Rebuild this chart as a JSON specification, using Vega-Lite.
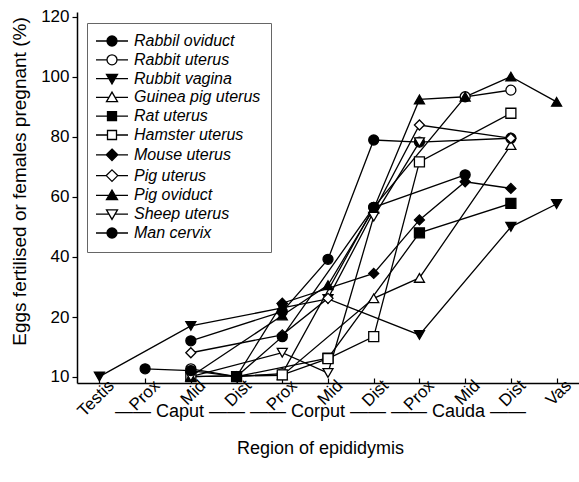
{
  "$schema": "https://vega.github.io/schema/vega-lite/v6.json",
  "width": 502,
  "height": 373,
  "autosize": {"type": "none"},
  "padding": {"left": 77, "top": 10, "right": 0, "bottom": 99},
  "background": "white",
  "config": {
    "view": {"stroke": null},
    "font": "Liberation Sans",
    "axis": {
      "grid": false,
      "domainColor": "black",
      "domainWidth": 1.5,
      "tickColor": "black",
      "tickWidth": 1.2,
      "labelColor": "black",
      "titleColor": "black",
      "labelFont": "Liberation Sans",
      "titleFont": "Liberation Sans",
      "titleFontWeight": "normal"
    },
    "legend": {
      "title": null,
      "orient": "none",
      "legendX": 10,
      "legendY": 13,
      "padding": 10,
      "strokeColor": "#666666",
      "fillColor": "white",
      "symbolSize": 100,
      "symbolStrokeWidth": 1.3,
      "symbolOpacity": 1,
      "symbolOffset": 7,
      "labelOffset": 14,
      "labelFontSize": 16,
      "labelFontStyle": "italic",
      "labelFont": "Liberation Sans",
      "labelColor": "black",
      "labelLimit": 300,
      "rowPadding": 2.8
    }
  },
  "data": {
    "values": [
      {"series": "Rabbil oviduct", "region": "Caput Mid", "step": 3, "pct": 16},
      {"series": "Rabbil oviduct", "region": "Corput Prox", "step": 5, "pct": 21.8},
      {"series": "Rabbil oviduct", "region": "Corput Mid", "step": 6, "pct": 39.2},
      {"series": "Rabbil oviduct", "region": "Corput Dist", "step": 7, "pct": 78.9},
      {"series": "Rabbil oviduct", "region": "Cauda Prox", "step": 8, "pct": 78.2},
      {"series": "Rabbil oviduct", "region": "Cauda Dist", "step": 10, "pct": 79.5},

      {"series": "Rabbit uterus", "region": "Caput Mid", "step": 3, "pct": 11.3},
      {"series": "Rabbit uterus", "region": "Caput Dist", "step": 4, "pct": 10},
      {"series": "Rabbit uterus", "region": "Corput Prox", "step": 5, "pct": 10.5},
      {"series": "Rabbit uterus", "region": "Corput Dist", "step": 7, "pct": 56.5},
      {"series": "Rabbit uterus", "region": "Cauda Mid", "step": 9, "pct": 93.3},
      {"series": "Rabbit uterus", "region": "Cauda Dist", "step": 10, "pct": 95.5},

      {"series": "Rubbit vagina", "region": "Testis", "step": 1, "pct": 10},
      {"series": "Rubbit vagina", "region": "Caput Mid", "step": 3, "pct": 18.5},
      {"series": "Rubbit vagina", "region": "Corput Prox", "step": 5, "pct": 23},
      {"series": "Rubbit vagina", "region": "Corput Mid", "step": 6, "pct": 26},
      {"series": "Rubbit vagina", "region": "Cauda Prox", "step": 8, "pct": 17},
      {"series": "Rubbit vagina", "region": "Cauda Dist", "step": 10, "pct": 50},
      {"series": "Rubbit vagina", "region": "Vas", "step": 11, "pct": 57.6},

      {"series": "Guinea pig uterus", "region": "Caput Mid", "step": 3, "pct": 10},
      {"series": "Guinea pig uterus", "region": "Corput Prox", "step": 5, "pct": 10.2},
      {"series": "Guinea pig uterus", "region": "Corput Dist", "step": 7, "pct": 26.2},
      {"series": "Guinea pig uterus", "region": "Cauda Prox", "step": 8, "pct": 33},
      {"series": "Guinea pig uterus", "region": "Cauda Dist", "step": 10, "pct": 77.2},

      {"series": "Rat uterus", "region": "Caput Dist", "step": 4, "pct": 10},
      {"series": "Rat uterus", "region": "Corput Mid", "step": 6, "pct": 13.1},
      {"series": "Rat uterus", "region": "Cauda Prox", "step": 8, "pct": 48},
      {"series": "Rat uterus", "region": "Cauda Dist", "step": 10, "pct": 57.8},

      {"series": "Hamster uterus", "region": "Caput Mid", "step": 3, "pct": 10},
      {"series": "Hamster uterus", "region": "Corput Prox", "step": 5, "pct": 10.3},
      {"series": "Hamster uterus", "region": "Corput Mid", "step": 6, "pct": 13},
      {"series": "Hamster uterus", "region": "Corput Dist", "step": 7, "pct": 16.7},
      {"series": "Hamster uterus", "region": "Cauda Prox", "step": 8, "pct": 71.6},
      {"series": "Hamster uterus", "region": "Cauda Dist", "step": 10, "pct": 87.8},

      {"series": "Mouse uterus", "region": "Caput Dist", "step": 4, "pct": 10},
      {"series": "Mouse uterus", "region": "Corput Prox", "step": 5, "pct": 24.6},
      {"series": "Mouse uterus", "region": "Corput Dist", "step": 7, "pct": 34.5},
      {"series": "Mouse uterus", "region": "Cauda Prox", "step": 8, "pct": 52.3},
      {"series": "Mouse uterus", "region": "Cauda Mid", "step": 9, "pct": 65},
      {"series": "Mouse uterus", "region": "Cauda Dist", "step": 10, "pct": 62.8},

      {"series": "Pig uterus", "region": "Caput Mid", "step": 3, "pct": 14},
      {"series": "Pig uterus", "region": "Corput Prox", "step": 5, "pct": 17},
      {"series": "Pig uterus", "region": "Corput Mid", "step": 6, "pct": 26.2},
      {"series": "Pig uterus", "region": "Cauda Prox", "step": 8, "pct": 83.9},
      {"series": "Pig uterus", "region": "Cauda Dist", "step": 10, "pct": 79.5},

      {"series": "Pig oviduct", "region": "Caput Mid", "step": 3, "pct": 10},
      {"series": "Pig oviduct", "region": "Corput Prox", "step": 5, "pct": 20.5},
      {"series": "Pig oviduct", "region": "Corput Mid", "step": 6, "pct": 30.6},
      {"series": "Pig oviduct", "region": "Corput Dist", "step": 7, "pct": 56},
      {"series": "Pig oviduct", "region": "Cauda Prox", "step": 8, "pct": 92.4},
      {"series": "Pig oviduct", "region": "Cauda Mid", "step": 9, "pct": 93.3},
      {"series": "Pig oviduct", "region": "Cauda Dist", "step": 10, "pct": 100},
      {"series": "Pig oviduct", "region": "Vas", "step": 11, "pct": 91.6},

      {"series": "Sheep uterus", "region": "Caput Mid", "step": 3, "pct": 10},
      {"series": "Sheep uterus", "region": "Corput Prox", "step": 5, "pct": 14},
      {"series": "Sheep uterus", "region": "Corput Mid", "step": 6, "pct": 10.6},
      {"series": "Sheep uterus", "region": "Corput Dist", "step": 7, "pct": 53.4},
      {"series": "Sheep uterus", "region": "Cauda Prox", "step": 8, "pct": 78.2},

      {"series": "Man cervix", "region": "Caput Prox", "step": 2, "pct": 11.3},
      {"series": "Man cervix", "region": "Caput Mid", "step": 3, "pct": 11},
      {"series": "Man cervix", "region": "Caput Dist", "step": 4, "pct": 10},
      {"series": "Man cervix", "region": "Corput Prox", "step": 5, "pct": 16.7},
      {"series": "Man cervix", "region": "Corput Dist", "step": 7, "pct": 56.5},
      {"series": "Man cervix", "region": "Cauda Mid", "step": 9, "pct": 67.3}
    ]
  },
  "encoding": {
    "x": {
      "field": "region",
      "type": "ordinal",
      "scale": {
        "type": "point",
        "padding": 0.49,
        "domain": ["Testis", "Caput Prox", "Caput Mid", "Caput Dist", "Corput Prox", "Corput Mid", "Corput Dist", "Cauda Prox", "Cauda Mid", "Cauda Dist", "Vas"]
      },
      "axis": {
        "labelExpr": "peek(split(datum.value, ' '))",
        "labelAngle": -45,
        "labelFontSize": 17,
        "tickSize": -5,
        "labelPadding": -1,
        "labelOffset": 6,
        "title": ["—— Caput ——     —— Corput ——     —— Cauda ——", "Region of epididymis"],
        "titleFontSize": 18,
        "titleX": 243,
        "titleY": 33,
        "titleAnchor": "middle",
        "titleAlign": "center",
        "titleBaseline": "alphabetic",
        "titleLineHeight": 37
      }
    },
    "y": {
      "field": "pct",
      "type": "quantitative",
      "scale": {"domain": [8.92, 20, 121.5], "range": [373, 307, 2], "nice": false, "zero": false},
      "axis": {
        "values": [10, 20, 40, 60, 80, 100, 120],
        "labelFontSize": 17,
        "tickSize": 5,
        "labelPadding": 3,
        "title": "Eggs fertilised or females pregnant (%)",
        "titleFontSize": 19,
        "titleX": -58,
        "titleY": 171,
        "titleAngle": -90,
        "titleAlign": "center",
        "titleBaseline": "middle"
      }
    }
  },
  "layer": [
    {
      "mark": {"type": "line", "color": "black", "strokeWidth": 1.3},
      "encoding": {
        "detail": {"field": "series", "type": "nominal"},
        "order": {"field": "step", "type": "quantitative"}
      }
    },
    {
      "mark": {"type": "point", "filled": true, "stroke": "black", "strokeWidth": 1.3, "size": 100, "opacity": 1},
      "encoding": {
        "shape": {
          "field": "series",
          "type": "nominal",
          "scale": {
            "domain": ["Rabbil oviduct", "Rabbit uterus", "Rubbit vagina", "Guinea pig uterus", "Rat uterus", "Hamster uterus", "Mouse uterus", "Pig uterus", "Pig oviduct", "Sheep uterus", "Man cervix"],
            "range": ["circle", "circle", "triangle-down", "triangle-up", "square", "square", "diamond", "diamond", "triangle-up", "triangle-down", "circle"]
          },
          "legend": null
        },
        "fill": {
          "field": "series",
          "type": "nominal",
          "scale": {
            "domain": ["Rabbil oviduct", "Rabbit uterus", "Rubbit vagina", "Guinea pig uterus", "Rat uterus", "Hamster uterus", "Mouse uterus", "Pig uterus", "Pig oviduct", "Sheep uterus", "Man cervix"],
            "range": ["black", "white", "black", "white", "black", "white", "black", "white", "black", "white", "black"]
          },
          "legend": null
        }
      }
    },
    {
      "mark": {"type": "point", "filled": true, "strokeWidth": 1.3, "size": 100, "opacity": 0},
      "encoding": {
        "shape": {
          "field": "series",
          "type": "nominal",
          "scale": {
            "domain": ["Rabbil oviduct", "Rabbit uterus", "Rubbit vagina", "Guinea pig uterus", "Rat uterus", "Hamster uterus", "Mouse uterus", "Pig uterus", "Pig oviduct", "Sheep uterus", "Man cervix"],
            "range": [
              "M-3.2,0L-1,0M1,0L3.2,0M1,0A1,1,0,1,1,-1,0A1,1,0,1,1,1,0Z",
              "M-3.2,0L-1,0M1,0L3.2,0M1,0A1,1,0,1,1,-1,0A1,1,0,1,1,1,0Z",
              "M-3.2,0L-0.6,0M0.6,0L3.2,0M0,1.05L1.1,-0.85L-1.1,-0.85Z",
              "M-3.2,0L-0.6,0M0.6,0L3.2,0M0,-1.05L1.1,0.85L-1.1,0.85Z",
              "M-3.2,0L-0.9,0M0.9,0L3.2,0M-0.9,-0.9L0.9,-0.9L0.9,0.9L-0.9,0.9Z",
              "M-3.2,0L-0.9,0M0.9,0L3.2,0M-0.9,-0.9L0.9,-0.9L0.9,0.9L-0.9,0.9Z",
              "M-3.2,0L-1.15,0M1.15,0L3.2,0M0,-1.15L1.15,0L0,1.15L-1.15,0Z",
              "M-3.2,0L-1.15,0M1.15,0L3.2,0M0,-1.15L1.15,0L0,1.15L-1.15,0Z",
              "M-3.2,0L-0.6,0M0.6,0L3.2,0M0,-1.05L1.1,0.85L-1.1,0.85Z",
              "M-3.2,0L-0.6,0M0.6,0L3.2,0M0,1.05L1.1,-0.85L-1.1,-0.85Z",
              "M-3.2,0L-1,0M1,0L3.2,0M1,0A1,1,0,1,1,-1,0A1,1,0,1,1,1,0Z"
            ]
          }
        },
        "fill": {
          "field": "series",
          "type": "nominal",
          "scale": {
            "domain": ["Rabbil oviduct", "Rabbit uterus", "Rubbit vagina", "Guinea pig uterus", "Rat uterus", "Hamster uterus", "Mouse uterus", "Pig uterus", "Pig oviduct", "Sheep uterus", "Man cervix"],
            "range": ["black", "white", "black", "white", "black", "white", "black", "white", "black", "white", "black"]
          }
        },
        "stroke": {
          "field": "series",
          "type": "nominal",
          "scale": {
            "domain": ["Rabbil oviduct", "Rabbit uterus", "Rubbit vagina", "Guinea pig uterus", "Rat uterus", "Hamster uterus", "Mouse uterus", "Pig uterus", "Pig oviduct", "Sheep uterus", "Man cervix"],
            "range": ["black", "black", "black", "black", "black", "black", "black", "black", "black", "black", "black"]
          }
        }
      }
    }
  ],
  "resolve": {"scale": {"shape": "independent", "fill": "independent", "stroke": "independent"}}
}
